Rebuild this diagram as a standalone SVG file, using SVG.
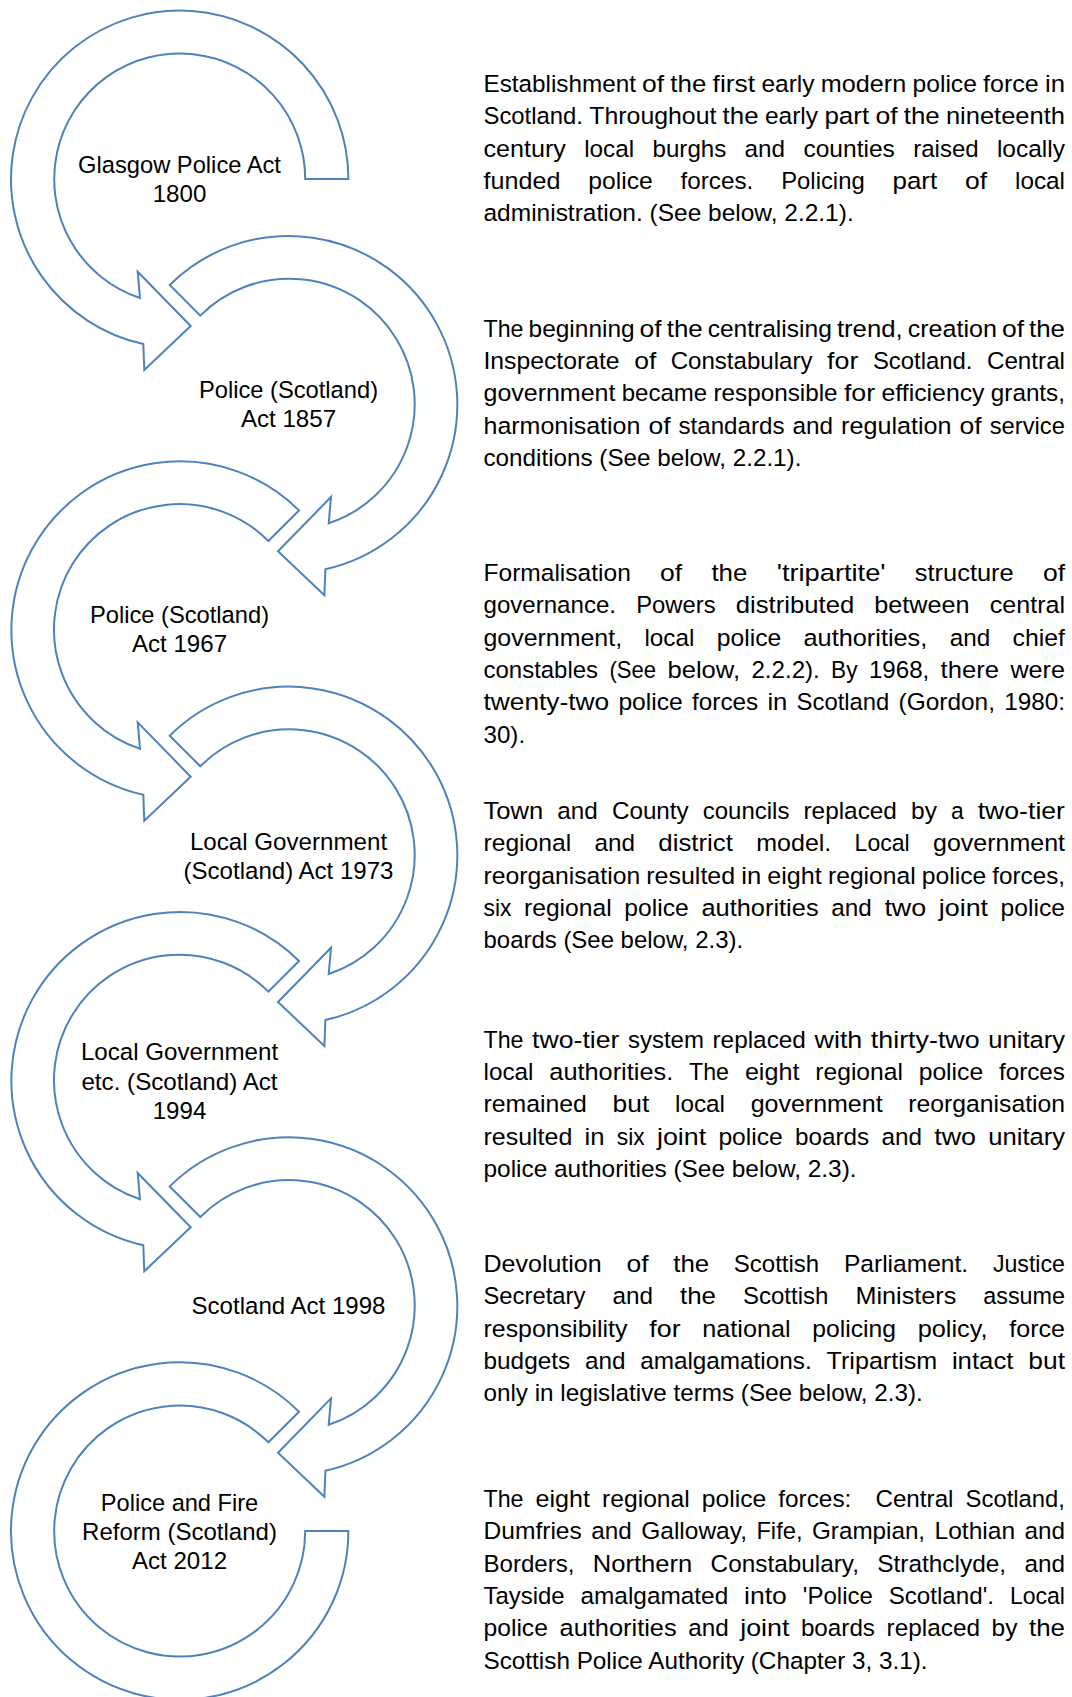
<svg xmlns="http://www.w3.org/2000/svg" xmlns:xlink="http://www.w3.org/1999/xlink" width="1072" height="1697" viewBox="0 0 1072 1697">
<style>
.arr{fill:#fff;stroke:#4F81BD;stroke-width:2;stroke-linejoin:miter}
.lbl{font-family:"Liberation Sans",Arial,sans-serif;font-size:24.3px;fill:#000;text-anchor:middle}
.txt{font-family:"Liberation Sans",Arial,sans-serif;font-size:24.3px;fill:#000}
.e{text-anchor:end}
</style>
<defs>
<path id="arrFirst" d="M168.7,0 A168.7,168.7 0 1 0 -36.4,165 L-35.4,191 L11,147 L-42,92.7 L-39.7,119 A125.5,125.5 0 1 1 125.5,0 Z"/>
<path id="arrMid" d="M119.3,-119.3 A168.7,168.7 0 1 0 -36.4,165 L-35.4,191 L11,147 L-42,92.7 L-39.7,119 A125.5,125.5 0 1 1 88.7,-88.7 Z"/>
<path id="arrLast" d="M119.3,-119.3 A168.7,168.7 0 1 0 168.7,0 L125.5,0 A125.5,125.5 0 1 1 88.7,-88.7 Z"/>
</defs>
<rect width="1072" height="1697" fill="#fff"/>

<g id="node1">
<use xlink:href="#arrFirst" class="arr" transform="translate(179.7,179)"/>
<text class="lbl"><tspan x="179.5" y="173" textLength="202.9" lengthAdjust="spacingAndGlyphs">Glasgow Police Act</tspan><tspan x="179.5" y="202" textLength="53.7" lengthAdjust="spacingAndGlyphs">1800</tspan></text>
</g>
<g id="node2">
<use xlink:href="#arrMid" class="arr" transform="translate(289,404.3) scale(-1,1)"/>
<text class="lbl"><tspan x="288.5" y="398.3" textLength="179.1" lengthAdjust="spacingAndGlyphs">Police (Scotland)</tspan><tspan x="288.5" y="427.3" textLength="95.2" lengthAdjust="spacingAndGlyphs">Act 1857</tspan></text>
</g>
<g id="node3">
<use xlink:href="#arrMid" class="arr" transform="translate(179.7,629.7)"/>
<text class="lbl"><tspan x="179.5" y="623.2" textLength="179.1" lengthAdjust="spacingAndGlyphs">Police (Scotland)</tspan><tspan x="179.5" y="652.2" textLength="95.2" lengthAdjust="spacingAndGlyphs">Act 1967</tspan></text>
</g>
<g id="node4">
<use xlink:href="#arrMid" class="arr" transform="translate(289,855) scale(-1,1)"/>
<text class="lbl"><tspan x="288.5" y="849.5" textLength="197.2" lengthAdjust="spacingAndGlyphs">Local Government</tspan><tspan x="288.5" y="878.5" textLength="210" lengthAdjust="spacingAndGlyphs">(Scotland) Act 1973</tspan></text>
</g>
<g id="node5">
<use xlink:href="#arrMid" class="arr" transform="translate(179.7,1080.3)"/>
<text class="lbl"><tspan x="179.5" y="1060" textLength="197.2" lengthAdjust="spacingAndGlyphs">Local Government</tspan><tspan x="179.5" y="1089.5" textLength="196.2" lengthAdjust="spacingAndGlyphs">etc. (Scotland) Act</tspan><tspan x="179.5" y="1118.5" textLength="53.7" lengthAdjust="spacingAndGlyphs">1994</tspan></text>
</g>
<g id="node6">
<use xlink:href="#arrMid" class="arr" transform="translate(289,1305.7) scale(-1,1)"/>
<text class="lbl"><tspan x="288.5" y="1314" textLength="194" lengthAdjust="spacingAndGlyphs">Scotland Act 1998</tspan></text>
</g>
<g id="node7">
<use xlink:href="#arrLast" class="arr" transform="translate(179.7,1531)"/>
<text class="lbl"><tspan x="179.5" y="1511" textLength="157.4" lengthAdjust="spacingAndGlyphs">Police and Fire</tspan><tspan x="179.5" y="1540" textLength="194.9" lengthAdjust="spacingAndGlyphs">Reform (Scotland)</tspan><tspan x="179.5" y="1569" textLength="95.2" lengthAdjust="spacingAndGlyphs">Act 2012</tspan></text>
</g>

<g id="descriptions">
<text id="desc1" class="txt"><tspan x="483.5" y="92" textLength="152.4" lengthAdjust="spacingAndGlyphs">Establishment</tspan><tspan x="642.1" textLength="22.1" lengthAdjust="spacingAndGlyphs">of</tspan><tspan x="670.3" textLength="36" lengthAdjust="spacingAndGlyphs">the</tspan><tspan x="712.6" textLength="42.6" lengthAdjust="spacingAndGlyphs">first</tspan><tspan x="761.4" textLength="53.2" lengthAdjust="spacingAndGlyphs">early</tspan><tspan x="820.8" textLength="85.4" lengthAdjust="spacingAndGlyphs">modern</tspan><tspan x="912.5" textLength="64.4" lengthAdjust="spacingAndGlyphs">police</tspan><tspan x="983.1" textLength="55.7" lengthAdjust="spacingAndGlyphs">force</tspan><tspan x="1065" class="e" textLength="20" lengthAdjust="spacingAndGlyphs">in</tspan><tspan x="483.5" y="124.35" textLength="99.5" lengthAdjust="spacingAndGlyphs">Scotland.</tspan><tspan x="589.3" textLength="127.1" lengthAdjust="spacingAndGlyphs">Throughout</tspan><tspan x="722.6" textLength="36" lengthAdjust="spacingAndGlyphs">the</tspan><tspan x="764.9" textLength="53.2" lengthAdjust="spacingAndGlyphs">early</tspan><tspan x="824.4" textLength="44.7" lengthAdjust="spacingAndGlyphs">part</tspan><tspan x="875.4" textLength="22.1" lengthAdjust="spacingAndGlyphs">of</tspan><tspan x="903.7" textLength="36" lengthAdjust="spacingAndGlyphs">the</tspan><tspan x="1065" class="e" textLength="119.1" lengthAdjust="spacingAndGlyphs">nineteenth</tspan><tspan x="483.5" y="156.7" textLength="82.4" lengthAdjust="spacingAndGlyphs">century</tspan><tspan x="584.2" textLength="50" lengthAdjust="spacingAndGlyphs">local</tspan><tspan x="652.5" textLength="73.8" lengthAdjust="spacingAndGlyphs">burghs</tspan><tspan x="744.6" textLength="40.5" lengthAdjust="spacingAndGlyphs">and</tspan><tspan x="803.4" textLength="91.5" lengthAdjust="spacingAndGlyphs">counties</tspan><tspan x="913.2" textLength="65.5" lengthAdjust="spacingAndGlyphs">raised</tspan><tspan x="1065" class="e" textLength="68.1" lengthAdjust="spacingAndGlyphs">locally</tspan><tspan x="483.5" y="189.05" textLength="76.9" lengthAdjust="spacingAndGlyphs">funded</tspan><tspan x="588.3" textLength="64.4" lengthAdjust="spacingAndGlyphs">police</tspan><tspan x="680.6" textLength="72.7" lengthAdjust="spacingAndGlyphs">forces.</tspan><tspan x="781.2" textLength="83.5" lengthAdjust="spacingAndGlyphs">Policing</tspan><tspan x="892.5" textLength="44.7" lengthAdjust="spacingAndGlyphs">part</tspan><tspan x="965.1" textLength="22.1" lengthAdjust="spacingAndGlyphs">of</tspan><tspan x="1065" class="e" textLength="50" lengthAdjust="spacingAndGlyphs">local</tspan><tspan x="483.5" y="221.4" textLength="370.2" lengthAdjust="spacingAndGlyphs">administration. (See below, 2.2.1).</tspan></text>
<text id="desc2" class="txt"><tspan x="483.5" y="336.5" textLength="40" lengthAdjust="spacingAndGlyphs">The</tspan><tspan x="528.6" textLength="106" lengthAdjust="spacingAndGlyphs">beginning</tspan><tspan x="639.6" textLength="22.1" lengthAdjust="spacingAndGlyphs">of</tspan><tspan x="666.7" textLength="36" lengthAdjust="spacingAndGlyphs">the</tspan><tspan x="707.7" textLength="124.1" lengthAdjust="spacingAndGlyphs">centralising</tspan><tspan x="836.9" textLength="65.8" lengthAdjust="spacingAndGlyphs">trend,</tspan><tspan x="907.7" textLength="89.2" lengthAdjust="spacingAndGlyphs">creation</tspan><tspan x="1001.9" textLength="22.1" lengthAdjust="spacingAndGlyphs">of</tspan><tspan x="1065" class="e" textLength="36" lengthAdjust="spacingAndGlyphs">the</tspan><tspan x="483.5" y="368.85" textLength="136.1" lengthAdjust="spacingAndGlyphs">Inspectorate</tspan><tspan x="634.2" textLength="22.1" lengthAdjust="spacingAndGlyphs">of</tspan><tspan x="670.7" textLength="141.8" lengthAdjust="spacingAndGlyphs">Constabulary</tspan><tspan x="827.1" textLength="31.3" lengthAdjust="spacingAndGlyphs">for</tspan><tspan x="872.9" textLength="99.5" lengthAdjust="spacingAndGlyphs">Scotland.</tspan><tspan x="1065" class="e" textLength="78.1" lengthAdjust="spacingAndGlyphs">Central</tspan><tspan x="483.5" y="401.2" textLength="131.9" lengthAdjust="spacingAndGlyphs">government</tspan><tspan x="621.7" textLength="85.4" lengthAdjust="spacingAndGlyphs">became</tspan><tspan x="713.4" textLength="124.2" lengthAdjust="spacingAndGlyphs">responsible</tspan><tspan x="843.9" textLength="31.3" lengthAdjust="spacingAndGlyphs">for</tspan><tspan x="881.5" textLength="103" lengthAdjust="spacingAndGlyphs">efficiency</tspan><tspan x="1065" class="e" textLength="74.2" lengthAdjust="spacingAndGlyphs">grants,</tspan><tspan x="483.5" y="433.55" textLength="156.9" lengthAdjust="spacingAndGlyphs">harmonisation</tspan><tspan x="648.4" textLength="22.1" lengthAdjust="spacingAndGlyphs">of</tspan><tspan x="678.5" textLength="106" lengthAdjust="spacingAndGlyphs">standards</tspan><tspan x="792.6" textLength="40.5" lengthAdjust="spacingAndGlyphs">and</tspan><tspan x="841.1" textLength="110.4" lengthAdjust="spacingAndGlyphs">regulation</tspan><tspan x="959.6" textLength="22.1" lengthAdjust="spacingAndGlyphs">of</tspan><tspan x="1065" class="e" textLength="75.3" lengthAdjust="spacingAndGlyphs">service</tspan><tspan x="483.5" y="465.9" textLength="317.9" lengthAdjust="spacingAndGlyphs">conditions (See below, 2.2.1).</tspan></text>
<text id="desc3" class="txt"><tspan x="483.5" y="581" textLength="147.3" lengthAdjust="spacingAndGlyphs">Formalisation</tspan><tspan x="660.1" textLength="22.1" lengthAdjust="spacingAndGlyphs">of</tspan><tspan x="711.4" textLength="36" lengthAdjust="spacingAndGlyphs">the</tspan><tspan x="776.7" textLength="108.8" lengthAdjust="spacingAndGlyphs">'tripartite'</tspan><tspan x="914.8" textLength="98.9" lengthAdjust="spacingAndGlyphs">structure</tspan><tspan x="1065" class="e" textLength="22.1" lengthAdjust="spacingAndGlyphs">of</tspan><tspan x="483.5" y="613.35" textLength="132.5" lengthAdjust="spacingAndGlyphs">governance.</tspan><tspan x="636.2" textLength="79.4" lengthAdjust="spacingAndGlyphs">Powers</tspan><tspan x="735.8" textLength="118.4" lengthAdjust="spacingAndGlyphs">distributed</tspan><tspan x="874.3" textLength="95.2" lengthAdjust="spacingAndGlyphs">between</tspan><tspan x="1065" class="e" textLength="75.2" lengthAdjust="spacingAndGlyphs">central</tspan><tspan x="483.5" y="645.7" textLength="138.6" lengthAdjust="spacingAndGlyphs">government,</tspan><tspan x="644.4" textLength="50" lengthAdjust="spacingAndGlyphs">local</tspan><tspan x="716.8" textLength="64.4" lengthAdjust="spacingAndGlyphs">police</tspan><tspan x="803.5" textLength="123.8" lengthAdjust="spacingAndGlyphs">authorities,</tspan><tspan x="949.7" textLength="40.5" lengthAdjust="spacingAndGlyphs">and</tspan><tspan x="1065" class="e" textLength="52.5" lengthAdjust="spacingAndGlyphs">chief</tspan><tspan x="483.5" y="678.05" textLength="114.6" lengthAdjust="spacingAndGlyphs">constables</tspan><tspan x="609.4" textLength="46.6" lengthAdjust="spacingAndGlyphs">(See</tspan><tspan x="667.4" textLength="72.7" lengthAdjust="spacingAndGlyphs">below,</tspan><tspan x="751.4" textLength="68.4" lengthAdjust="spacingAndGlyphs">2.2.2).</tspan><tspan x="831.1" textLength="26.4" lengthAdjust="spacingAndGlyphs">By</tspan><tspan x="868.9" textLength="60.4" lengthAdjust="spacingAndGlyphs">1968,</tspan><tspan x="940.6" textLength="58.4" lengthAdjust="spacingAndGlyphs">there</tspan><tspan x="1065" class="e" textLength="54.6" lengthAdjust="spacingAndGlyphs">were</tspan><tspan x="483.5" y="710.4" textLength="125.7" lengthAdjust="spacingAndGlyphs">twenty-two</tspan><tspan x="618.4" textLength="64.4" lengthAdjust="spacingAndGlyphs">police</tspan><tspan x="692.1" textLength="66.1" lengthAdjust="spacingAndGlyphs">forces</tspan><tspan x="767.4" textLength="20" lengthAdjust="spacingAndGlyphs">in</tspan><tspan x="796.6" textLength="92.8" lengthAdjust="spacingAndGlyphs">Scotland</tspan><tspan x="898.6" textLength="96.4" lengthAdjust="spacingAndGlyphs">(Gordon,</tspan><tspan x="1065" class="e" textLength="60.8" lengthAdjust="spacingAndGlyphs">1980:</tspan><tspan x="483.5" y="742.75" textLength="41.6" lengthAdjust="spacingAndGlyphs">30).</tspan></text>
<text id="desc4" class="txt"><tspan x="483.5" y="819" textLength="59.7" lengthAdjust="spacingAndGlyphs">Town</tspan><tspan x="557.3" textLength="40.5" lengthAdjust="spacingAndGlyphs">and</tspan><tspan x="611.9" textLength="76.8" lengthAdjust="spacingAndGlyphs">County</tspan><tspan x="702.7" textLength="86.7" lengthAdjust="spacingAndGlyphs">councils</tspan><tspan x="803.5" textLength="93.4" lengthAdjust="spacingAndGlyphs">replaced</tspan><tspan x="911" textLength="25.9" lengthAdjust="spacingAndGlyphs">by</tspan><tspan x="951" textLength="12.7" lengthAdjust="spacingAndGlyphs">a</tspan><tspan x="1065" class="e" textLength="87.3" lengthAdjust="spacingAndGlyphs">two-tier</tspan><tspan x="483.5" y="851.35" textLength="87.6" lengthAdjust="spacingAndGlyphs">regional</tspan><tspan x="594.5" textLength="40.5" lengthAdjust="spacingAndGlyphs">and</tspan><tspan x="658.3" textLength="74.6" lengthAdjust="spacingAndGlyphs">district</tspan><tspan x="756.3" textLength="75" lengthAdjust="spacingAndGlyphs">model.</tspan><tspan x="854.6" textLength="55.1" lengthAdjust="spacingAndGlyphs">Local</tspan><tspan x="1065" class="e" textLength="131.9" lengthAdjust="spacingAndGlyphs">government</tspan><tspan x="483.5" y="883.7" textLength="156.7" lengthAdjust="spacingAndGlyphs">reorganisation</tspan><tspan x="646.3" textLength="88.8" lengthAdjust="spacingAndGlyphs">resulted</tspan><tspan x="741.2" textLength="20" lengthAdjust="spacingAndGlyphs">in</tspan><tspan x="767.3" textLength="54.5" lengthAdjust="spacingAndGlyphs">eight</tspan><tspan x="828" textLength="87.6" lengthAdjust="spacingAndGlyphs">regional</tspan><tspan x="921.8" textLength="64.4" lengthAdjust="spacingAndGlyphs">police</tspan><tspan x="1065" class="e" textLength="72.7" lengthAdjust="spacingAndGlyphs">forces,</tspan><tspan x="483.5" y="916.05" textLength="27.9" lengthAdjust="spacingAndGlyphs">six</tspan><tspan x="524" textLength="87.6" lengthAdjust="spacingAndGlyphs">regional</tspan><tspan x="624.3" textLength="64.4" lengthAdjust="spacingAndGlyphs">police</tspan><tspan x="701.4" textLength="117.2" lengthAdjust="spacingAndGlyphs">authorities</tspan><tspan x="831.2" textLength="40.5" lengthAdjust="spacingAndGlyphs">and</tspan><tspan x="884.4" textLength="41.8" lengthAdjust="spacingAndGlyphs">two</tspan><tspan x="938.8" textLength="49.2" lengthAdjust="spacingAndGlyphs">joint</tspan><tspan x="1065" class="e" textLength="64.4" lengthAdjust="spacingAndGlyphs">police</tspan><tspan x="483.5" y="948.4" textLength="259.6" lengthAdjust="spacingAndGlyphs">boards (See below, 2.3).</tspan></text>
<text id="desc5" class="txt"><tspan x="483.5" y="1047.5" textLength="40" lengthAdjust="spacingAndGlyphs">The</tspan><tspan x="532.1" textLength="87.3" lengthAdjust="spacingAndGlyphs">two-tier</tspan><tspan x="627.9" textLength="76" lengthAdjust="spacingAndGlyphs">system</tspan><tspan x="712.5" textLength="93.4" lengthAdjust="spacingAndGlyphs">replaced</tspan><tspan x="814.5" textLength="47.8" lengthAdjust="spacingAndGlyphs">with</tspan><tspan x="870.8" textLength="108.9" lengthAdjust="spacingAndGlyphs">thirty-two</tspan><tspan x="1065" class="e" textLength="76.7" lengthAdjust="spacingAndGlyphs">unitary</tspan><tspan x="483.5" y="1079.85" textLength="50" lengthAdjust="spacingAndGlyphs">local</tspan><tspan x="549.3" textLength="123.9" lengthAdjust="spacingAndGlyphs">authorities.</tspan><tspan x="689" textLength="40" lengthAdjust="spacingAndGlyphs">The</tspan><tspan x="744.9" textLength="54.5" lengthAdjust="spacingAndGlyphs">eight</tspan><tspan x="815.3" textLength="87.6" lengthAdjust="spacingAndGlyphs">regional</tspan><tspan x="918.7" textLength="64.4" lengthAdjust="spacingAndGlyphs">police</tspan><tspan x="1065" class="e" textLength="66.1" lengthAdjust="spacingAndGlyphs">forces</tspan><tspan x="483.5" y="1112.2" textLength="103.4" lengthAdjust="spacingAndGlyphs">remained</tspan><tspan x="612.6" textLength="36.7" lengthAdjust="spacingAndGlyphs">but</tspan><tspan x="675" textLength="50" lengthAdjust="spacingAndGlyphs">local</tspan><tspan x="750.7" textLength="131.9" lengthAdjust="spacingAndGlyphs">government</tspan><tspan x="1065" class="e" textLength="156.7" lengthAdjust="spacingAndGlyphs">reorganisation</tspan><tspan x="483.5" y="1144.55" textLength="88.8" lengthAdjust="spacingAndGlyphs">resulted</tspan><tspan x="584.6" textLength="20" lengthAdjust="spacingAndGlyphs">in</tspan><tspan x="616.8" textLength="27.9" lengthAdjust="spacingAndGlyphs">six</tspan><tspan x="657" textLength="49.2" lengthAdjust="spacingAndGlyphs">joint</tspan><tspan x="718.4" textLength="64.4" lengthAdjust="spacingAndGlyphs">police</tspan><tspan x="795.1" textLength="74.1" lengthAdjust="spacingAndGlyphs">boards</tspan><tspan x="881.5" textLength="40.5" lengthAdjust="spacingAndGlyphs">and</tspan><tspan x="934.2" textLength="41.8" lengthAdjust="spacingAndGlyphs">two</tspan><tspan x="1065" class="e" textLength="76.7" lengthAdjust="spacingAndGlyphs">unitary</tspan><tspan x="483.5" y="1176.9" textLength="373.1" lengthAdjust="spacingAndGlyphs">police authorities (See below, 2.3).</tspan></text>
<text id="desc6" class="txt"><tspan x="483.5" y="1272" textLength="118.2" lengthAdjust="spacingAndGlyphs">Devolution</tspan><tspan x="626.4" textLength="22.1" lengthAdjust="spacingAndGlyphs">of</tspan><tspan x="673.2" textLength="36" lengthAdjust="spacingAndGlyphs">the</tspan><tspan x="733.8" textLength="85.4" lengthAdjust="spacingAndGlyphs">Scottish</tspan><tspan x="843.9" textLength="124.3" lengthAdjust="spacingAndGlyphs">Parliament.</tspan><tspan x="1065" class="e" textLength="72.1" lengthAdjust="spacingAndGlyphs">Justice</tspan><tspan x="483.5" y="1304.35" textLength="101.8" lengthAdjust="spacingAndGlyphs">Secretary</tspan><tspan x="612.4" textLength="40.5" lengthAdjust="spacingAndGlyphs">and</tspan><tspan x="680" textLength="36" lengthAdjust="spacingAndGlyphs">the</tspan><tspan x="743" textLength="85.4" lengthAdjust="spacingAndGlyphs">Scottish</tspan><tspan x="855.5" textLength="100.8" lengthAdjust="spacingAndGlyphs">Ministers</tspan><tspan x="1065" class="e" textLength="81.7" lengthAdjust="spacingAndGlyphs">assume</tspan><tspan x="483.5" y="1336.7" textLength="144" lengthAdjust="spacingAndGlyphs">responsibility</tspan><tspan x="649.3" textLength="31.3" lengthAdjust="spacingAndGlyphs">for</tspan><tspan x="702.3" textLength="88.2" lengthAdjust="spacingAndGlyphs">national</tspan><tspan x="812.3" textLength="83.7" lengthAdjust="spacingAndGlyphs">policing</tspan><tspan x="917.7" textLength="69.9" lengthAdjust="spacingAndGlyphs">policy,</tspan><tspan x="1065" class="e" textLength="55.7" lengthAdjust="spacingAndGlyphs">force</tspan><tspan x="483.5" y="1369.05" textLength="86.7" lengthAdjust="spacingAndGlyphs">budgets</tspan><tspan x="584.9" textLength="40.5" lengthAdjust="spacingAndGlyphs">and</tspan><tspan x="640.2" textLength="171.5" lengthAdjust="spacingAndGlyphs">amalgamations.</tspan><tspan x="826.6" textLength="110.6" lengthAdjust="spacingAndGlyphs">Tripartism</tspan><tspan x="951.9" textLength="61.6" lengthAdjust="spacingAndGlyphs">intact</tspan><tspan x="1065" class="e" textLength="36.7" lengthAdjust="spacingAndGlyphs">but</tspan><tspan x="483.5" y="1401.4" textLength="439.3" lengthAdjust="spacingAndGlyphs">only in legislative terms (See below, 2.3).</tspan></text>
<text id="desc7" class="txt"><tspan x="483.5" y="1507" textLength="40" lengthAdjust="spacingAndGlyphs">The</tspan><tspan x="535.5" textLength="54.5" lengthAdjust="spacingAndGlyphs">eight</tspan><tspan x="602.1" textLength="87.6" lengthAdjust="spacingAndGlyphs">regional</tspan><tspan x="701.8" textLength="64.4" lengthAdjust="spacingAndGlyphs">police</tspan><tspan x="778.2" textLength="73.2" lengthAdjust="spacingAndGlyphs">forces:</tspan><tspan x="875.4" textLength="78.1" lengthAdjust="spacingAndGlyphs">Central</tspan><tspan x="1065" class="e" textLength="99.4" lengthAdjust="spacingAndGlyphs">Scotland,</tspan><tspan x="483.5" y="1539.35" textLength="98.3" lengthAdjust="spacingAndGlyphs">Dumfries</tspan><tspan x="591.3" textLength="40.5" lengthAdjust="spacingAndGlyphs">and</tspan><tspan x="641.2" textLength="105.8" lengthAdjust="spacingAndGlyphs">Galloway,</tspan><tspan x="756.4" textLength="46.1" lengthAdjust="spacingAndGlyphs">Fife,</tspan><tspan x="812" textLength="113.1" lengthAdjust="spacingAndGlyphs">Grampian,</tspan><tspan x="934.5" textLength="80.6" lengthAdjust="spacingAndGlyphs">Lothian</tspan><tspan x="1065" class="e" textLength="40.5" lengthAdjust="spacingAndGlyphs">and</tspan><tspan x="483.5" y="1571.7" textLength="91" lengthAdjust="spacingAndGlyphs">Borders,</tspan><tspan x="592.8" textLength="99.5" lengthAdjust="spacingAndGlyphs">Northern</tspan><tspan x="710.6" textLength="148.4" lengthAdjust="spacingAndGlyphs">Constabulary,</tspan><tspan x="877.3" textLength="128.8" lengthAdjust="spacingAndGlyphs">Strathclyde,</tspan><tspan x="1065" class="e" textLength="40.5" lengthAdjust="spacingAndGlyphs">and</tspan><tspan x="483.5" y="1604.05" textLength="81.1" lengthAdjust="spacingAndGlyphs">Tayside</tspan><tspan x="580.5" textLength="147.7" lengthAdjust="spacingAndGlyphs">amalgamated</tspan><tspan x="744.1" textLength="42.8" lengthAdjust="spacingAndGlyphs">into</tspan><tspan x="802.8" textLength="70.1" lengthAdjust="spacingAndGlyphs">'Police</tspan><tspan x="888.7" textLength="105.3" lengthAdjust="spacingAndGlyphs">Scotland'.</tspan><tspan x="1065" class="e" textLength="55.1" lengthAdjust="spacingAndGlyphs">Local</tspan><tspan x="483.5" y="1636.4" textLength="64.4" lengthAdjust="spacingAndGlyphs">police</tspan><tspan x="559.5" textLength="117.2" lengthAdjust="spacingAndGlyphs">authorities</tspan><tspan x="688.2" textLength="40.5" lengthAdjust="spacingAndGlyphs">and</tspan><tspan x="740.2" textLength="49.2" lengthAdjust="spacingAndGlyphs">joint</tspan><tspan x="800.9" textLength="74.1" lengthAdjust="spacingAndGlyphs">boards</tspan><tspan x="886.6" textLength="93.4" lengthAdjust="spacingAndGlyphs">replaced</tspan><tspan x="991.6" textLength="25.9" lengthAdjust="spacingAndGlyphs">by</tspan><tspan x="1065" class="e" textLength="36" lengthAdjust="spacingAndGlyphs">the</tspan><tspan x="483.5" y="1668.75" textLength="444.1" lengthAdjust="spacingAndGlyphs">Scottish Police Authority (Chapter 3, 3.1).</tspan></text>
</g>
</svg>
